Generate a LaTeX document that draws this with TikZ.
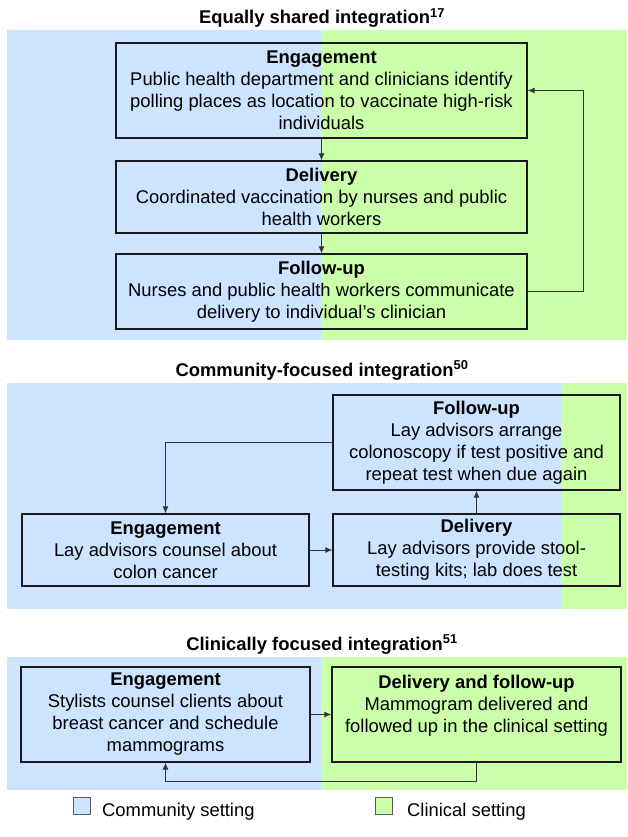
\documentclass[tikz,border=0pt]{standalone}
\usepackage{fontspec}
\setmainfont{Liberation Sans}
\usetikzlibrary{arrows.meta}
\definecolor{commblue}{RGB}{204,228,255}
\definecolor{clingreen}{RGB}{204,255,170}
\begin{document}
\begin{tikzpicture}[x=1pt,y=-1pt,
  txt/.style={font=\fontsize{18.4}{22}\selectfont},
  stagebox/.style={draw=black!90, line width=1.2pt, inner sep=0pt, align=center, font=\fontsize{18.4}{22}\selectfont},
  conn/.style={draw=black!80, line width=1pt, -{Latex[length=7pt,width=6pt]}},
  ptitle/.style={font=\bfseries\fontsize{18.4}{22}\selectfont, anchor=base},
  legbox/.style={draw=black!65, line width=0.8pt, inner sep=0pt, minimum size=17}
]
\useasboundingbox (0,0) rectangle (627,837);
% backgrounds
\fill[commblue] (7,30) rectangle (321,340);
\fill[clingreen] (321,30) rectangle (627,340);
\fill[commblue] (7,383) rectangle (561,609);
\fill[clingreen] (561,383) rectangle (627,609);
\fill[commblue] (7,657) rectangle (321,790);
\fill[clingreen] (321,657) rectangle (627,790);
% titles
\node[ptitle] (t1) at (322,24) {Equally shared integration\textsuperscript{17}};
\node[ptitle] (t2) at (322,376) {Community-focused integration\textsuperscript{50}};
\node[ptitle] (t3) at (322,650) {Clinically focused integration\textsuperscript{51}};
% panel 1
\node[stagebox, minimum width=411, minimum height=95] (e1) at (321.5,90.5)
  {\textbf{Engagement}\\Public health department and clinicians identify\\polling places as location to vaccinate high-risk\\individuals};
\node[stagebox, minimum width=411, minimum height=72] (d1) at (321.5,197)
  {\textbf{Delivery}\\Coordinated vaccination by nurses and public\\health workers};
\node[stagebox, minimum width=411, minimum height=75] (f1) at (321.5,291.5)
  {\textbf{Follow-up}\\Nurses and public health workers communicate\\delivery to individual’s clinician};
\draw[conn] (e1.south) -- (d1.north);
\draw[conn] (d1.south) -- (f1.north);
\coordinate (fb1) at (583,0);
\draw[conn] (f1.east) -- (f1.east -| fb1) |- (e1.east);
% panel 2
\node[stagebox, minimum width=287, minimum height=95] (f2) at (476.5,442.5)
  {\textbf{Follow-up}\\Lay advisors arrange\\colonoscopy if test positive and\\repeat test when due again};
\node[stagebox, minimum width=287, minimum height=72] (e2) at (165.5,550)
  {\textbf{Engagement}\\Lay advisors counsel about\\colon cancer};
\node[stagebox, minimum width=287, minimum height=72] (d2) at (476.5,550)
  {\textbf{Delivery}\\Lay advisors provide stool-\\testing kits; lab does test};
\draw[conn] (f2.west) -| (e2.north);
\draw[conn] (e2.east) -- (d2.west);
\draw[conn] (d2.north) -- (f2.south);
% panel 3
\node[stagebox, minimum width=289, minimum height=95] (e3) at (165.5,714.5)
  {\textbf{Engagement}\\Stylists counsel clients about\\breast cancer and schedule\\mammograms};
\node[stagebox, minimum width=289, minimum height=95] (df3) at (476.5,714.5)
  {\textbf{Delivery and follow-up}\\Mammogram delivered and\\followed up in the clinical setting\\\mbox{}};
\draw[conn] (e3.east) -- (df3.west);
\coordinate (rb3) at (0,781);
\draw[conn] (df3.south) -- (df3.south |- rb3) -| (e3.south);
% legend
\node[legbox, fill=commblue] (lc) at (81.5,805.5) {};
\node[txt, anchor=base west, inner sep=0pt] (lct) at (102,816) {Community setting};
\node[legbox, fill=clingreen] (lg) at (383.5,805.5) {};
\node[txt, anchor=base west, inner sep=0pt] (lgt) at (407,816) {Clinical setting};
\end{tikzpicture}
\end{document}
